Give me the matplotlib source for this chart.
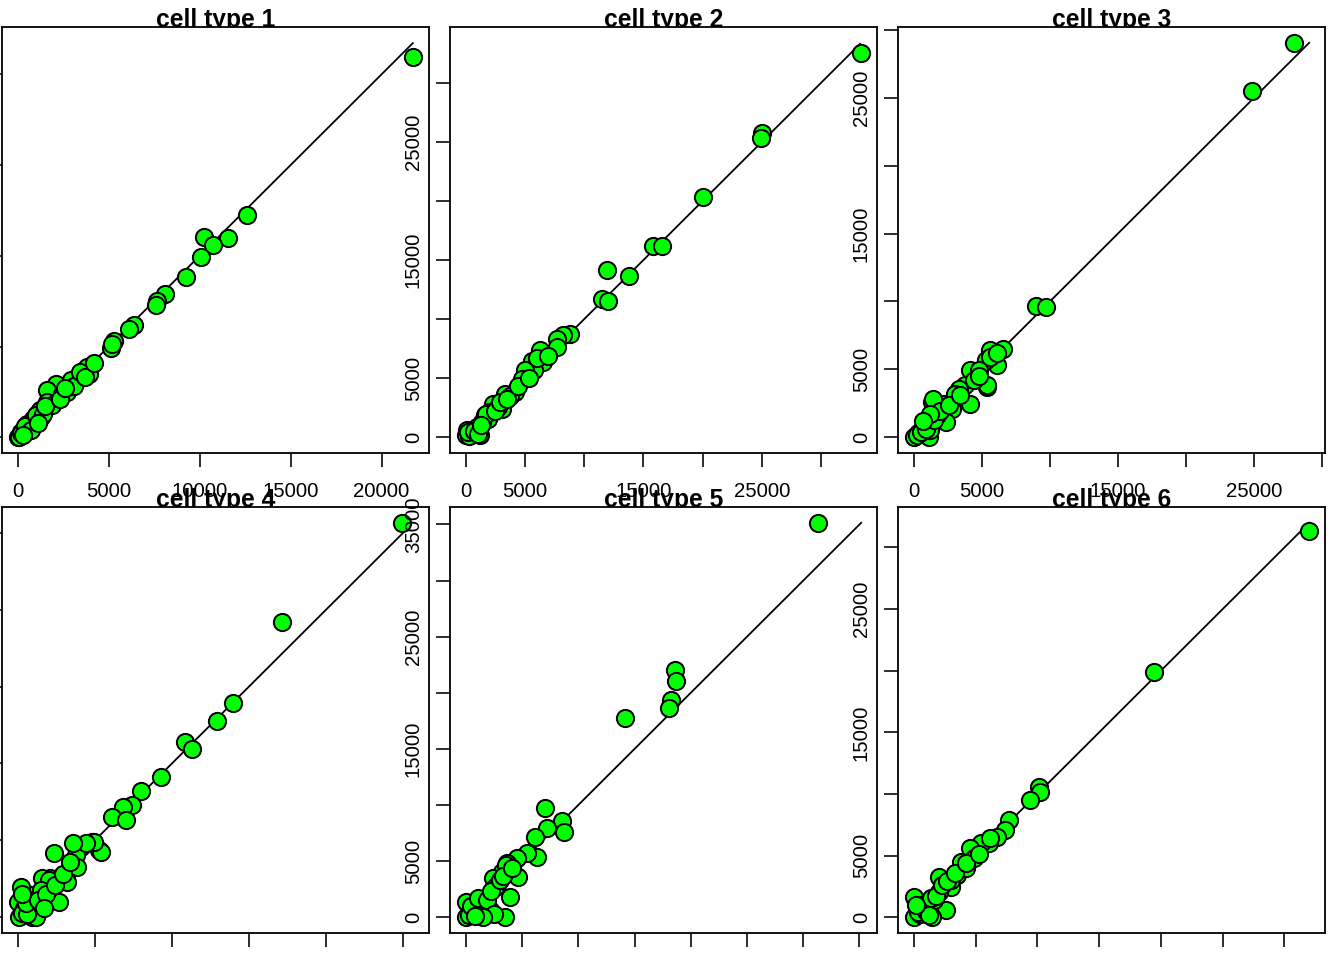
import numpy as np
import matplotlib
matplotlib.use("Agg")
import matplotlib.pyplot as plt
from matplotlib.transforms import Bbox, TransformedBbox

plt.rcParams['font.family'] = ['Liberation Sans', 'DejaVu Sans']

titles = ["cell type 1", "cell type 2", "cell type 3",
          "cell type 4", "cell type 5", "cell type 6"]

ct1_x = [21740, 12580, 11580, 10240, 10730, 10060, 9230, 8100, 7640, 7580, 6390, 6120, 5290, 5110,
         3980, 3550, 3280, 2910, 2360, 2090, 1590, 1720, 1080, 900, 350, 0, 80, 810, 1630, 2450,
         3830, 3920, 5200, 530, 200, 1300, 1900, 2700, 3100, 600, 1200, 150,
         400, 700, 1000, 1400, 1500, 2300, 2600, 3400, 3700, 4200, 300, 1100]
ct1_y = [20940, 12240, 10970, 11010, 10590, 9950, 8850, 7900, 7530, 7310, 6210, 5970, 5280, 4910,
         3920, 3410, 3130, 3130, 2400, 2950, 2580, 1850, 1300, 930, 480, 0, 20, 1030, 1940, 2400,
         3860, 3500, 5150, 750, 300, 1100, 1800, 2500, 2800, 500, 1500, 250,
         600, 400, 1200, 1300, 1700, 2100, 2700, 3600, 3300, 4100, 100, 800]

ct2_x = [33390, 25050, 24940, 20020, 15850, 16550, 11910, 13790, 11490, 12040, 8810, 8190, 7690,
         7740, 6280, 6550, 5570, 5770, 5010, 4730, 4160, 3320, 3320, 3040, 2330, 1630, 1910, 930,
         1210, 0, 80, 400, 600, 2000, 2700, 3700, 300,
         200, 700, 1000, 1400, 1700, 2500, 2900, 3500, 4400, 5300, 6000, 6900, 1300]
ct2_y = [32490, 25790, 25360, 20300, 16160, 16160, 14160, 13660, 11710, 11510, 8700, 8620, 8340,
         7630, 7350, 6360, 6440, 5660, 5660, 4960, 3830, 3270, 3690, 2420, 2850, 1860, 1580, 870,
         170, 170, 590, 500, 300, 2100, 2600, 3500, 100,
         400, 500, 300, 1300, 2000, 2200, 3000, 3200, 4300, 5000, 6700, 6900, 1000]

ct3_x = [27900, 24830, 8950, 9680, 6570, 5570, 5880, 6080, 5270, 5400, 4120, 4780, 3730, 3310,
         4120, 2820, 2330, 1350, 2210, 1720, 1100, 620, 1100, 0, 1430, 1180, 5350, 300, 800, 3000,
         200, 500, 900, 1500, 1900, 2600, 3400, 4400, 4800, 5600, 6100, 1200, 700]
ct3_y = [29040, 25520, 9630, 9580, 6520, 6400, 5660, 5290, 5660, 3700, 4930, 4930, 3820, 3580,
         2430, 2110, 1130, 2600, 2480, 1620, 1130, 640, 20, 20, 2850, 520, 3820, 300, 900, 3200,
         200, 400, 600, 1300, 1900, 2400, 3100, 4200, 4500, 5900, 6200, 1700, 1200]

ct4_x = [24920, 17110, 13940, 12950, 10850, 11330, 9270, 7970, 7430, 6850, 6130, 6990, 4830, 5260,
         4070, 3750, 2340, 3100, 3210, 3860, 2120, 1590, 2660, 940, 180, 0, 710, 70, 940, 5370,
         4940, 2010, 1040, 1150, 1500, 400,
         300, 600, 500, 1300, 1800, 2400, 2900, 3400, 4400, 300, 1700, 3600]
ct4_y = [25650, 19180, 13940, 12770, 11400, 10910, 9130, 8220, 7290, 7180, 6530, 6320, 4910, 4370,
         4590, 4050, 4160, 2750, 2310, 3290, 2530, 2530, 1010, 1450, 1990, 1010, 910, 40, 40, 4260,
         4910, 2420, 1120, 0, 1800, 600,
         300, 200, 900, 1100, 1500, 2100, 2800, 3600, 4800, 1500, 600, 4800]

ct5_x = [31320, 18620, 18680, 18240, 18030, 14170, 7060, 8590, 8750, 7260, 6170, 6320, 5430, 4540,
         3650, 4680, 3200, 2400, 2760, 3940, 3500, 1270, 0, 0, 680, 2140, 1090, 3610, 2580, 600, 1800,
         300, 500, 1500, 1100, 1900, 2200, 3000, 3300, 4100, 2500, 1500, 800]
ct5_y = [35140, 22000, 21050, 19400, 18600, 17790, 9750, 8570, 7620, 7920, 7170, 5340, 5690, 5250,
         4800, 3610, 4060, 3470, 2870, 1830, 30, 1510, 1390, 0, 650, 650, 940, 4650, 2720, 300, 1200,
         200, 1000, 700, 1700, 1500, 2300, 3300, 3700, 4400, 300, 0, 100]

ct6_x = [31990, 19420, 10170, 10200, 9440, 7740, 7420, 6750, 6070, 5400, 4510, 4860, 3780, 3510,
         2020, 2970, 2020, 2570, 1490, 1080, 0, 0, 810, 3000, 4200, 500, 1600,
         300, 600, 1000, 1400, 1800, 2300, 2700, 3300, 4200, 5300, 6200, 1200, 200]
ct6_y = [31340, 19870, 10570, 10160, 9490, 7870, 7060, 6520, 5990, 5990, 5580, 4770, 4500, 3420,
         3290, 2480, 2070, 590, 0, 1130, 1670, 50, 590, 3000, 4000, 300, 1400,
         400, 1000, 500, 1600, 1700, 2600, 2900, 3600, 4400, 5100, 6400, 200, 1000]

line_end = [21720, 33300, 29050, 25110, 35150, 32000]

tick_step = 5000
# tick labels that are visible in the picture (others fall outside the canvas)
shown_x_labels = [
    [0, 5000, 10000, 15000, 20000],
    [0, 5000, 15000, 25000],
    [0, 5000, 15000, 25000],
    [], [], [],
]
shown_y_labels = [
    [],
    [0, 5000, 15000, 25000],
    [0, 5000, 15000, 25000],
    [],
    [0, 5000, 15000, 25000, 35000],
    [0, 5000, 15000, 25000],
]

xs = [ct1_x, ct2_x, ct3_x, ct4_x, ct5_x, ct6_x]
ys = [ct1_y, ct2_y, ct3_y, ct4_y, ct5_y, ct6_y]

W, H = 1344, 960
fig = plt.figure(figsize=(W / 100, H / 100), dpi=100)

lefts = [2, 450, 898]
tops = [27, 507]
bw, bh = 427, 426
px = 72 / 100  # points per pixel

for i in range(6):
    r, c = divmod(i, 3)
    l = lefts[c]
    t = tops[r]
    ax = fig.add_axes([l / W, 1 - (t + bh) / H, bw / W, bh / H])
    x = np.array(xs[i], float)
    y = np.array(ys[i], float)
    lo = min(x.min(), y.min(), 0)
    hi = max(x.max(), y.max(), line_end[i])
    pad = 0.04 * (hi - lo)
    ax.set_xlim(lo - pad, hi + pad)
    ax.set_ylim(lo - pad, hi + pad)

    ax.plot([0, line_end[i]], [0, line_end[i]], color='black', lw=1.8 * px, zorder=2)
    ax.scatter(x, y, s=(17.2 * px) ** 2, facecolor='#00ff00', edgecolor='black',
               linewidths=2.0 * px, zorder=3)

    ticks = np.arange(0, hi + pad + 1, tick_step)
    ticks = ticks[ticks >= lo - pad]
    ax.set_xticks(ticks)
    ax.set_xticklabels([f"{int(v)}" if int(v) in shown_x_labels[i] else "" for v in ticks])
    ax.set_yticks(ticks)
    ax.set_yticklabels([f"{int(v)}" if int(v) in shown_y_labels[i] else "" for v in ticks])
    ax.tick_params(direction='out', length=14 * px, width=1.6 * px, labelsize=14.7,
                   colors='black')
    ax.tick_params(axis='x', pad=15 * px)
    ax.tick_params(axis='y', pad=13 * px, labelrotation=90)
    for lab in ax.get_yticklabels():
        lab.set_va('center')
    for sp in ax.spines.values():
        sp.set_linewidth(1.8 * px)
        sp.set_color('black')

    # title, clipped at the top of the plotting box
    cx = (l + bw / 2) / W
    ty = 1 - (t + 0.5) / H
    txt = fig.text(cx, ty, titles[i], ha='center', va='baseline',
                   fontsize=17.7, fontweight='bold', color='black')
    clip = TransformedBbox(Bbox([[l / W, 1 - t / H], [(l + bw) / W, 1 - (t - 40) / H]]),
                           fig.transFigure)
    txt.set_clip_box(clip)
    txt.set_clip_on(True)

fig.savefig("out.png", dpi=100, facecolor='white')
